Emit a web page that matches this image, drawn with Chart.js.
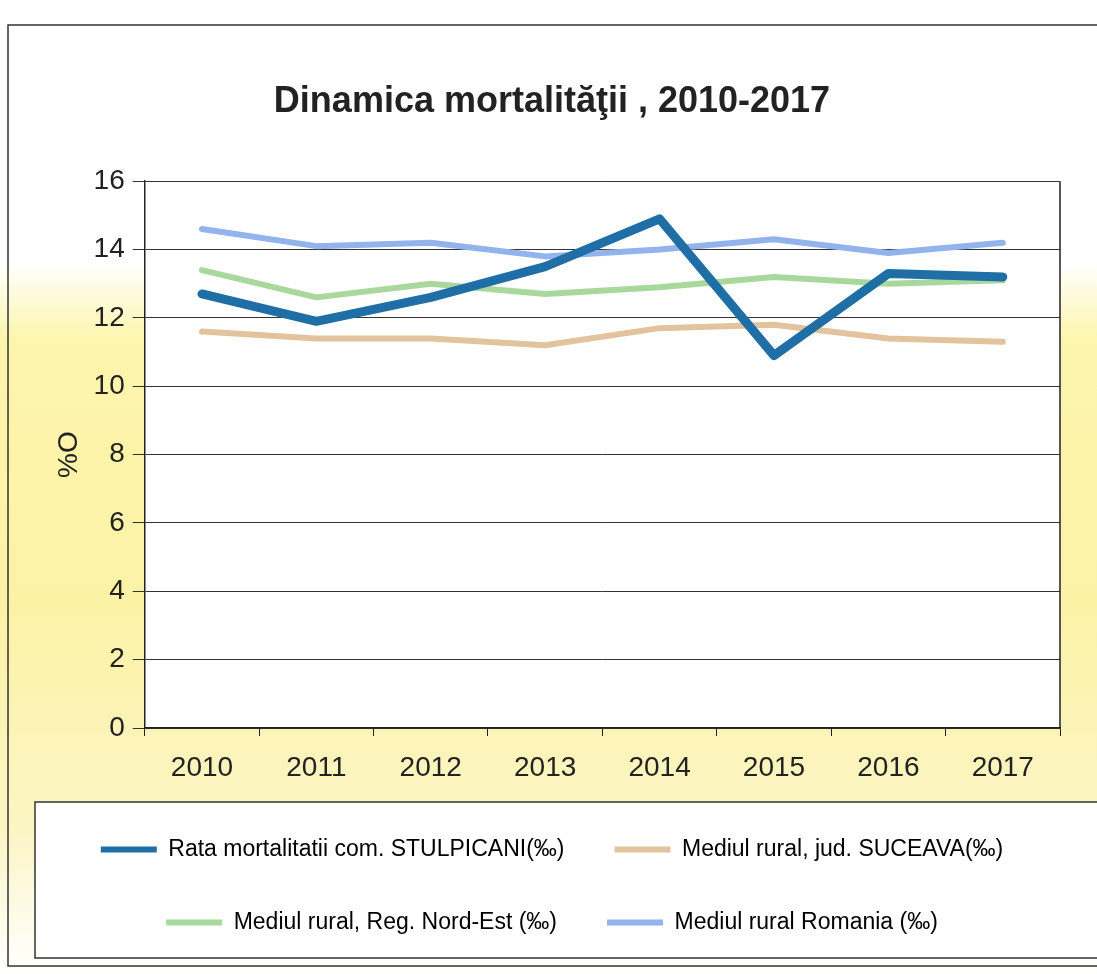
<!DOCTYPE html>
<html>
<head>
<meta charset="utf-8">
<script src="https://cdn.jsdelivr.net/npm/chart.js@4/dist/chart.umd.min.js"></script>
<style>
  html, body { margin: 0; padding: 0; background: #fff; }
  #wrap { width: 1097px; height: 974px; }
</style>
</head>
<body>
<div id="wrap"><canvas id="chart1" width="1097" height="974"></canvas></div>
<script>
// date grafic
const years = ['2010', '2011', '2012', '2013', '2014', '2015', '2016', '2017'];
const stulpicani = [12.7, 11.9, 12.6, 13.5, 14.9, 10.9, 13.3, 13.2];
const suceava = [11.6, 11.4, 11.4, 11.2, 11.7, 11.8, 11.4, 11.3];
const nordEst = [13.4, 12.6, 13.0, 12.7, 12.9, 13.2, 13.0, 13.1];
const romania = [14.6, 14.1, 14.2, 13.8, 14.0, 14.3, 13.9, 14.2];
const seriesNames = [
  'Rata mortalitatii com. STULPICANI(‰)',
  'Mediul rural, jud. SUCEAVA(‰)',
  'Mediul rural, Reg. Nord-Est (‰)',
  'Mediul rural Romania (‰)'
];
const yTicks = [0, 2, 4, 6, 8, 10, 12, 14, 16];

const colors = ['#1f6ea6', '#e2c39e', '#a8d89c', '#92b3ec'];
const fontFam = 'Liberation Sans, Arial, sans-serif';

// fundal galben + chenare
const backdrop = {
  id: 'backdrop',
  beforeDraw(chart) {
    const ctx = chart.ctx;
    const w = chart.width, h = chart.height;
    const ca = chart.chartArea;
    ctx.save();
    let g = ctx.createLinearGradient(0, 0, 0, h);
    g.addColorStop(0, '#ffffff');
    g.addColorStop(0.27, '#ffffff');
    g.addColorStop(0.35, '#fdf5ac');
    g.addColorStop(0.62, '#fcf2a6');
    g.addColorStop(0.85, '#fbf5c4');
    g.addColorStop(1, '#ffffff');
    ctx.fillStyle = g;
    ctx.fillRect(0, 0, w, h);
    // zona graficului alba
    ctx.fillStyle = '#ffffff';
    ctx.fillRect(ca.left, ca.top, ca.right - ca.left, ca.bottom - ca.top);
    // chenar exterior
    ctx.strokeStyle = '#333';
    ctx.lineWidth = 1.5;
    ctx.strokeRect(8, 25, w + 10, h - 33);
    // chenar legenda
    const lg = chart.legend;
    const top = lg.top + 14;
    ctx.fillStyle = '#ffffff';
    ctx.fillRect(35, top, w, 958 - top);
    ctx.strokeRect(35, top, w, 958 - top);
    ctx.restore();
  },
  afterDatasetsDraw(chart) {
    const ctx = chart.ctx;
    const ca = chart.chartArea;
    ctx.save();
    ctx.strokeStyle = '#222';
    ctx.lineWidth = 1.5;
    ctx.beginPath();
    ctx.moveTo(ca.right, ca.top);
    ctx.lineTo(ca.right, ca.bottom);
    ctx.stroke();
    ctx.restore();
  }
};

function makeSet(i, data, width) {
  return {
    label: seriesNames[i],
    data: data,
    borderColor: colors[i],
    backgroundColor: colors[i],
    borderWidth: width,
    pointRadius: 0,
    tension: 0,
    fill: false,
    borderCapStyle: 'round',
    borderJoinStyle: 'round'
  };
}

new Chart(document.getElementById('chart1'), {
  type: 'line',
  data: {
    labels: years,
    datasets: [
      makeSet(0, stulpicani, 9),
      makeSet(1, suceava, 6),
      makeSet(2, nordEst, 6),
      makeSet(3, romania, 6)
    ]
  },
  options: {
    responsive: false,
    animation: false,
    layout: { padding: { left: 44, right: 37, top: 0, bottom: 30 } },
    plugins: {
      title: {
        display: true,
        text: 'Dinamica mortalităţii , 2010-2017',
        color: '#222',
        font: { family: fontFam, size: 36, weight: 'bold' },
        padding: { top: 80, bottom: 58 }
      },
      legend: {
        position: 'bottom',
        labels: {
          color: '#222',
          font: { family: fontFam, size: 23 },
          boxWidth: 56,
          boxHeight: 6,
          padding: 50,
          generateLabels(chart) {
            return chart.data.datasets.map((ds, i) => ({
              text: ds.label,
              fillStyle: ds.borderColor,
              strokeStyle: ds.borderColor,
              lineWidth: 0,
              hidden: false,
              datasetIndex: i
            }));
          }
        }
      },
      tooltip: { enabled: false }
    },
    scales: {
      x: {
        offset: true,
        grid: { offset: true, drawOnChartArea: false, drawTicks: true, tickLength: 8, color: '#222' },
        border: { color: '#222', width: 1.5 },
        ticks: {
          color: '#222',
          padding: 15,
          font: { family: fontFam, size: 28 }
        },
        afterFit(scale) { scale.height = 60; }
      },
      y: {
        min: 0,
        max: 16,
        afterBuildTicks(scale) { scale.ticks = yTicks.map(v => ({ value: v })); },
        grid: { color: '#333', lineWidth: 1, tickLength: 12 },
        border: { color: '#222', width: 1.5 },
        ticks: {
          color: '#222',
          padding: 8,
          font: { family: fontFam, size: 28 }
        },
        title: {
          display: true,
          text: '%O',
          color: '#222',
          font: { family: fontFam, size: 28 },
          padding: { top: 8, bottom: 0 }
        }
      }
    }
  },
  plugins: [backdrop]
});
</script>
</body>
</html>
